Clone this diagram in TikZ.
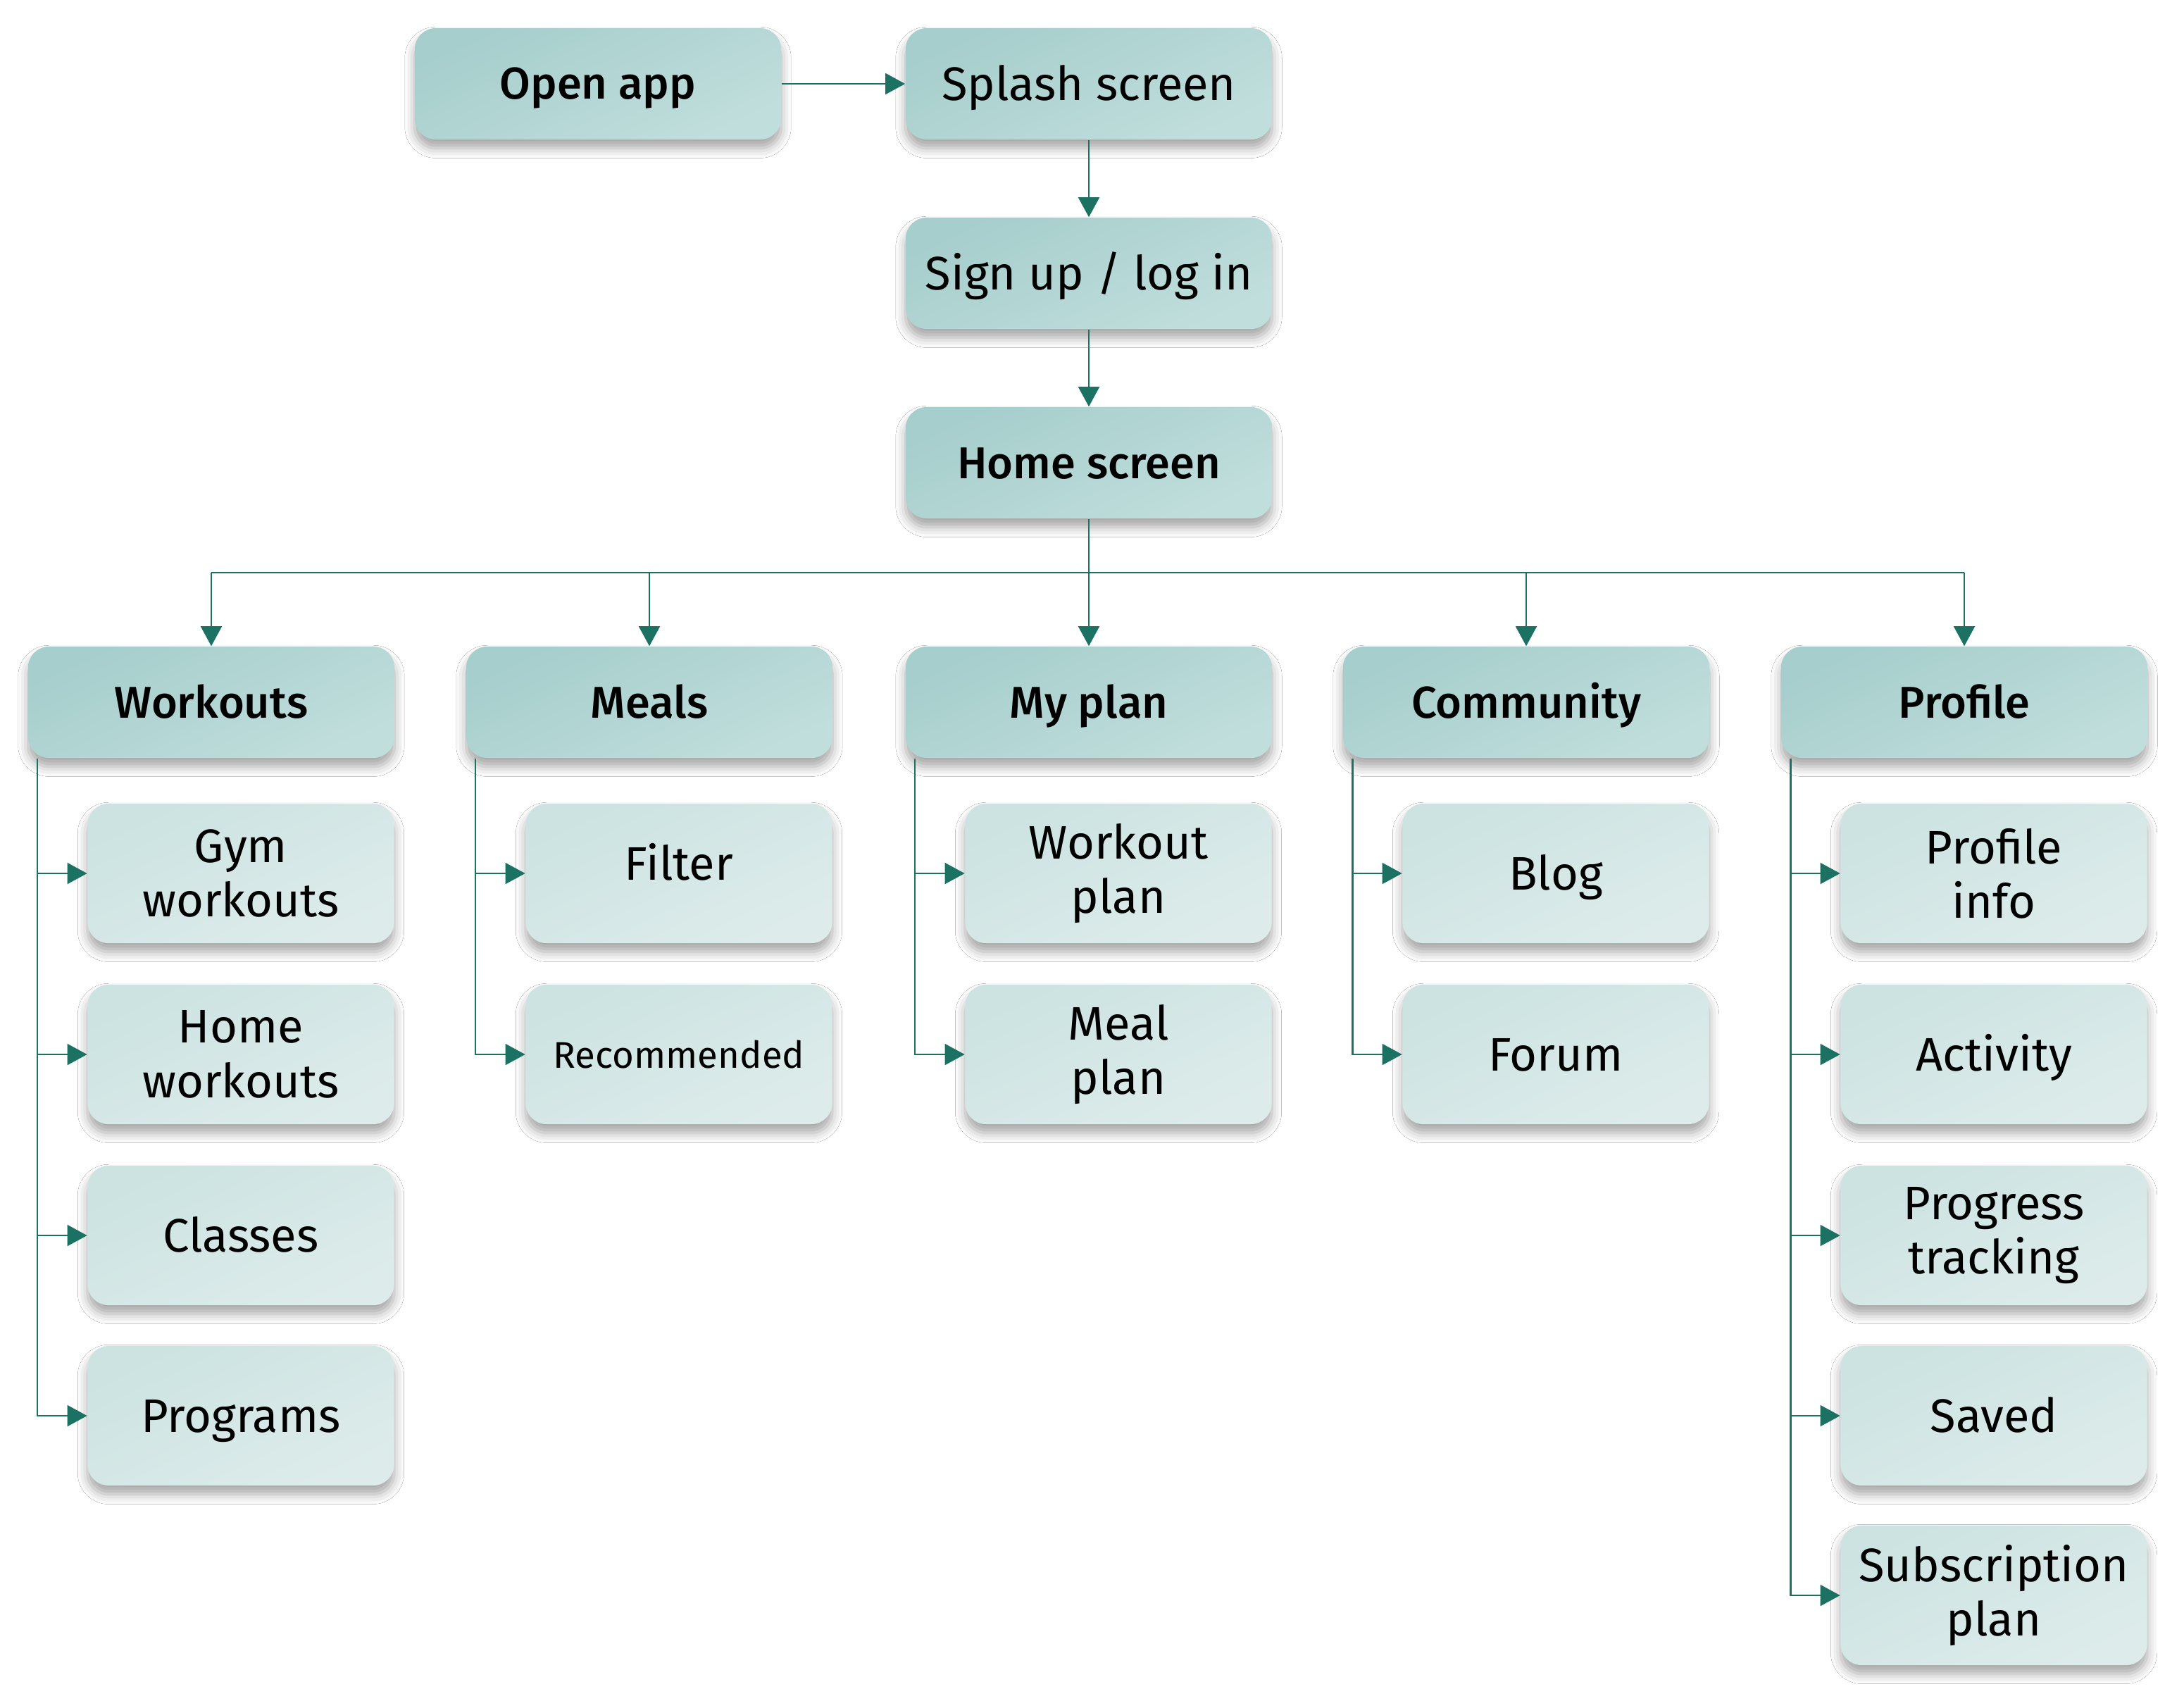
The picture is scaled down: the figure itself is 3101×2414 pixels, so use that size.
\documentclass[tikz,border=0pt]{standalone}
\usepackage{fontspec}
\setmainfont{Fira Sans}
\newfontfamily\hdfont{Fira Sans Medium}
\usetikzlibrary{arrows.meta,shadows.blur}
\definecolor{hdA}{HTML}{A6CECC}
\definecolor{hdB}{HTML}{C0DEDC}
\definecolor{kdA}{HTML}{CCE3E1}
\definecolor{kdB}{HTML}{DDECEB}
\definecolor{ln}{HTML}{1B7262}
\tikzset{
  base/.style={rounded corners=8.5pt, align=center, inner sep=0pt,
    blur shadow={shadow xshift=0pt, shadow yshift=-3.5pt, shadow blur radius=4pt, shadow opacity=35}},
  hd/.style={base, minimum width=5.2cm, minimum height=1.58cm,
    top color=hdA, bottom color=hdB, shading angle=25,
    text height=17pt, text depth=4.5pt,
    font=\fontsize{18pt}{21pt}\selectfont\hdfont},
  hdreg/.style={hd, text height=17.6pt, text depth=4.5pt, font=\fontsize{19pt}{22pt}\selectfont},
  kid/.style={base, minimum width=4.35cm, minimum height=1.98cm,
    top color=kdA, bottom color=kdB, shading angle=25,
    font=\fontsize{19pt}{22pt}\selectfont},
  kidone/.style={kid, text height=17.6pt, text depth=4.5pt},
  conn/.style={draw=ln, line width=0.75pt, -{Triangle[length=8pt,width=8.5pt]}},
  plain/.style={draw=ln, line width=0.75pt},
}
\begin{document}
\begin{tikzpicture}[x=0.01cm,y=-0.01cm]
\useasboundingbox[fill=white] (0,0) rectangle (3101,2414);
% top chain
\node[hd] (open) at (849,119) {Open app};
\node[hdreg] (splash) at (1546,119) {Splash screen};
\node[hdreg] (sign) at (1546,388) {Sign up / log in};
\node[hd] (home) at (1546,657) {Home screen};
% headers
\node[hd] (wo) at (300,997) {Workouts};
\node[hd] (me) at (922,997) {Meals};
\node[hd] (mp) at (1546,997) {My plan};
\node[hd] (co) at (2167,997) {Community};
\node[hd] (pr) at (2789,997) {Profile};
% workouts children
\node[kid] (gym) at (342,1240) {Gym\\workouts};
\node[kid] (hw) at (342,1497) {Home\\workouts};
\node[kidone] (cl) at (342,1754) {Classes};
\node[kidone] (pg) at (342,2010) {Programs};
% meals children
\node[kid] (fi) at (964,1240) {\raisebox{0.34cm}{Filter}};
\node[kid, font=\fontsize{15pt}{18pt}\selectfont] (re) at (964,1497) {Recommended};
% my plan children
\node[kid] (wp) at (1588,1240) {Workout\\plan};
\node[kid] (mlp) at (1588,1497) {Meal\\plan};
% community children
\node[kidone] (bl) at (2209,1240) {Blog};
\node[kidone] (fo) at (2209,1497) {Forum};
% profile children
\node[kid] (pi) at (2831,1240) {Profile\\info};
\node[kidone] (ac) at (2831,1497) {Activity};
\node[kid] (pt) at (2831,1754) {Progress\\tracking};
\node[kidone] (sv) at (2831,2010) {Saved};
\node[kid] (sp) at (2831,2265) {Subscription\\plan};
% top connectors
\draw[conn] (open) -- (splash);
\draw[conn] (splash) -- (sign);
\draw[conn] (sign) -- (home);
\draw[conn] (home) -- (mp);
% bus
\coordinate (bus) at (1546,813);
\draw[plain] (wo.north |- bus) -- (pr.north |- bus);
\foreach \h in {wo,me,co,pr}{\draw[conn] (\h.north |- bus) -- (\h.north);}
% spines
\foreach \h/\kids in {wo/{gym,hw,cl,pg}, me/{fi,re}, mp/{wp,mlp}, co/{bl,fo}, pr/{pi,ac,pt,sv,sp}}{
  \coordinate (\h sp) at ([xshift=0.14cm]\h.south west);
  \foreach \k in \kids {\draw[conn] (\h sp) |- (\k.west);}
}
\end{tikzpicture}
\end{document}
